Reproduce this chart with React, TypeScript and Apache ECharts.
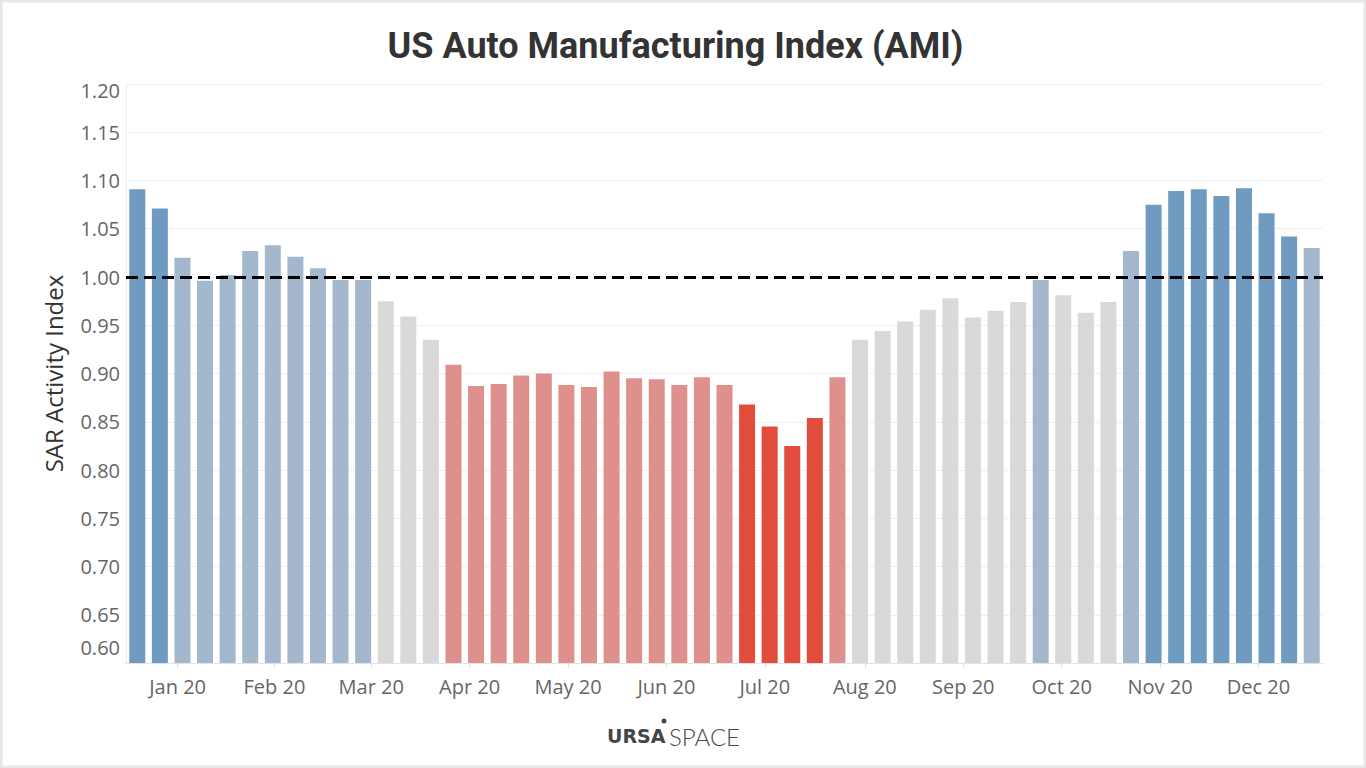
import React, { useEffect, useRef } from "react";
import * as echarts from "echarts";

// Weekly SAR activity readings for 2020 (week ending dates start Jan 4, 2020)
const FIRST_WEEK = Date.UTC(2020, 0, 4);
const DAY = 24 * 3600 * 1000;

const ACTIVITY = [
  1.091, 1.071, 1.020, 0.996, 1.002, 1.027, 1.033, 1.021, 1.009, 0.997,
  0.997, 0.975, 0.959, 0.935, 0.909, 0.887, 0.889, 0.898, 0.900, 0.888,
  0.886, 0.902, 0.895, 0.894, 0.888, 0.896, 0.888, 0.868, 0.845, 0.825,
  0.854, 0.896, 0.935, 0.944, 0.954, 0.966, 0.978, 0.958, 0.965, 0.974,
  0.997, 0.981, 0.963, 0.974, 1.027, 1.075, 1.089, 1.091, 1.084, 1.092,
  1.066, 1.042, 1.030,
];

const MONTH_LABELS = [
  "Jan 20", "Feb 20", "Mar 20", "Apr 20", "May 20", "Jun 20",
  "Jul 20", "Aug 20", "Sep 20", "Oct 20", "Nov 20", "Dec 20",
];

const Y_MIN = 0.6;
const Y_MAX = 1.2;
const Y_STEP = 0.05;
const BASELINE = 1.0;

// colour bands by activity level
const BANDS = [
  { below: 0.87, color: "#e14c3d" },
  { below: 0.91, color: "#de918c" },
  { below: 0.99, color: "#d9d9d9" },
  { below: 1.04, color: "#a3b8cc" },
  { below: Infinity, color: "#709bc0" },
];

const bandColor = (v: number) => BANDS.find((b) => v < b.below)!.color;

// label each month at its midpoint
const monthMid = MONTH_LABELS.map((_, m) => {
  const a = Date.UTC(2020, m, 1);
  const b = Date.UTC(2020, m + 1, 1);
  return (a + b) / 2;
});

export default function App() {
  const ref = useRef<HTMLDivElement>(null);

  useEffect(() => {
    if (!ref.current) return;
    const chart = echarts.init(ref.current, undefined, { renderer: "svg" });

    const weeks = ACTIVITY.map((v, i) => [FIRST_WEEK + i * 7 * DAY, v]);
    const xMin = FIRST_WEEK - 3.5 * DAY;
    const xMax = FIRST_WEEK + (ACTIVITY.length - 1) * 7 * DAY + 3.5 * DAY;

    const labelFont = { fontFamily: "Open Sans", fontSize: 20, color: "#666" };

    chart.setOption({
      animation: false,
      backgroundColor: "#fff",
      grid: { left: 126, right: 43, top: 84, bottom: 105 },
      xAxis: {
        type: "value",
        min: xMin,
        max: xMax,
        axisLine: { show: true, lineStyle: { color: "#e3e3e3", width: 1 } },
        axisTick: {
          show: true,
          length: 5,
          customValues: monthMid,
          lineStyle: { color: "#dcdcdc" },
        },
        splitLine: { show: false },
        axisLabel: {
          ...labelFont,
          margin: 13,
          customValues: monthMid,
          formatter: (v: number) => {
            const idx = monthMid.findIndex((t) => Math.abs(t - v) < DAY);
            return idx >= 0 ? MONTH_LABELS[idx] : "";
          },
        },
      },
      yAxis: {
        type: "value",
        min: Y_MIN,
        max: Y_MAX,
        interval: Y_STEP,
        name: "SAR Activity Index",
        nameLocation: "middle",
        nameGap: 61,
        nameTextStyle: { fontFamily: "Open Sans", fontSize: 24, color: "#333" },
        axisLine: { show: true, lineStyle: { color: "#ececec" } },
        axisTick: { show: false },
        splitLine: { show: true, lineStyle: { color: "#f0f0f0", width: 1 } },
        axisLabel: {
          ...labelFont,
          margin: 6,
          formatter: (v: number) => {
            const s = v.toFixed(2);
            if (Math.abs(v - Y_MAX) < 1e-6) return `{top|${s}}`;
            if (Math.abs(v - Y_MIN) < 1e-6) return `{bot|${s}}`;
            return s;
          },
          rich: {
            top: { ...labelFont, padding: [13, 0, 0, 0] },
            bot: { ...labelFont, padding: [0, 0, 32, 0] },
          },
        },
      },
      series: [
        {
          type: "bar",
          data: weeks,
          barWidth: 16,
          itemStyle: {
            color: (p: any) => bandColor(p.value[1]),
          },
          markLine: {
            silent: true,
            symbol: "none",
            label: { show: false },
            lineStyle: { color: "#000", width: 3, type: [12, 6] },
            data: [{ yAxis: BASELINE }],
          },
        },
      ],
      graphic: [
        {
          type: "rect",
          shape: { x: 1, y: 1, width: 1364, height: 766 },
          style: { fill: "none", stroke: "#e6e6e6", lineWidth: 3 },
          silent: true,
        },
        {
          type: "text",
          x: 675.5,
          y: 46,
          style: {
            text: "US Auto Manufacturing Index (AMI)",
            font: "bold 36px Roboto",
            fill: "#333",
            align: "center",
            verticalAlign: "middle",
          },
        },
        {
          type: "text",
          x: 607,
          y: 736,
          style: {
            text: "URSA",
            font: "bold 19px 'DejaVu Sans'",
            fill: "#454545",
            align: "left",
            verticalAlign: "middle",
          },
        },
        {
          type: "circle",
          shape: { cx: 664, cy: 721, r: 2.5 },
          style: { fill: "#454545" },
        },
        {
          type: "text",
          x: 669,
          y: 736,
          style: {
            text: "SPACE",
            font: "300 24px Lato",
            fill: "#4a4a4a",
            align: "left",
            verticalAlign: "middle",
          },
        },
      ],
    });

    return () => chart.dispose();
  }, []);

  return (
    <div
      ref={ref}
      style={{ position: "absolute", left: 0, top: 0, width: 1366, height: 768, background: "#fff" }}
    />
  );
}
